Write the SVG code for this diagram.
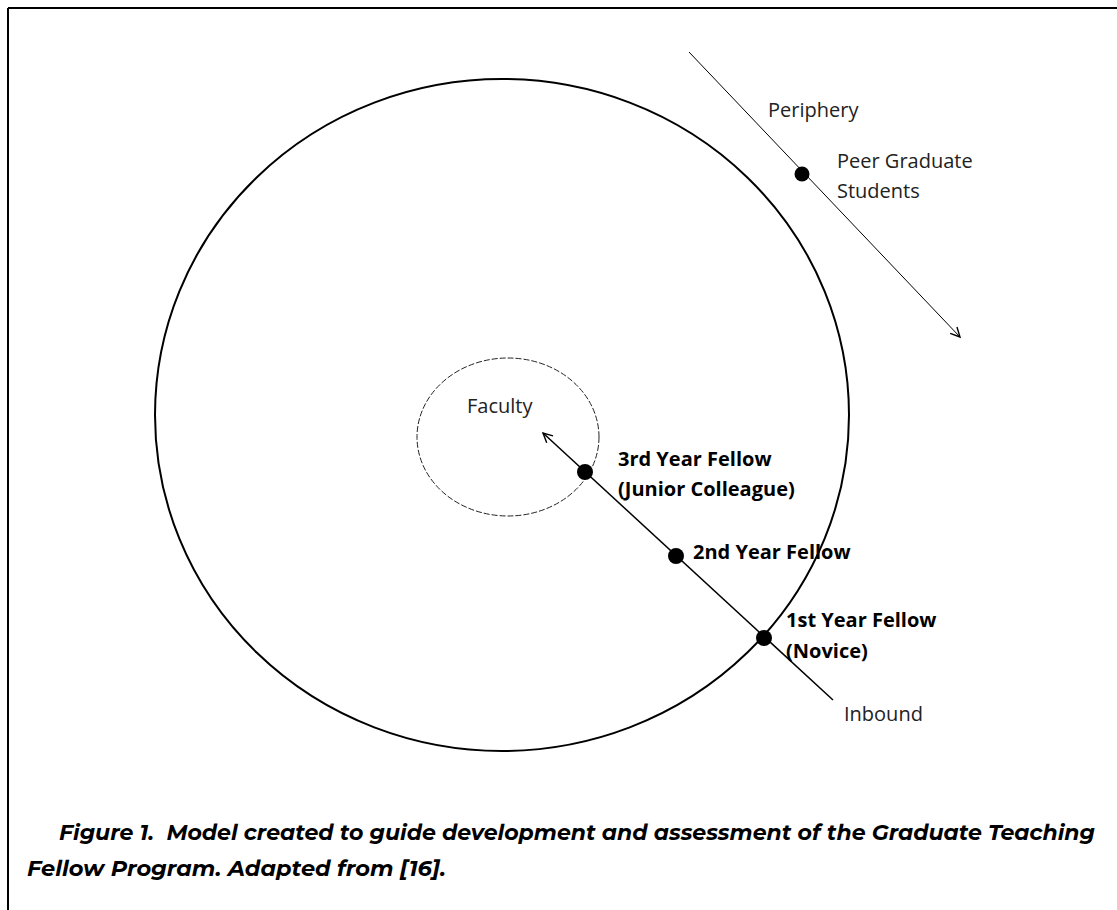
<svg xmlns="http://www.w3.org/2000/svg" width="1117" height="910" viewBox="0 0 1117 910">
  <style>
    .lbl { font-family: "Open Sans", "Noto Sans", "Liberation Sans", sans-serif; font-size: 20px; fill: #222; }
    .bold { font-weight: bold; fill: #000; }
    .cap { font-family: "Montserrat", "Liberation Sans", "DejaVu Sans", sans-serif; font-size: 21px; font-weight: bold; font-style: italic; fill: #000; }
    .dot { fill: #000; }
    .conn { stroke: #000; fill: none; }
  </style>
  <defs>
    <marker id="arrow" markerUnits="userSpaceOnUse" markerWidth="14" markerHeight="14" refX="10" refY="5" orient="auto" viewBox="0 0 12 10">
      <path d="M2,1 L10,5 L2,9" fill="none" stroke="#000" stroke-width="1.2"/>
    </marker>
  </defs>
  <rect width="1117" height="910" fill="#fff"/>
  <g id="frame">
    <line x1="8" y1="8" x2="1117" y2="8" stroke="#000" stroke-width="2"/>
    <line x1="8" y1="8" x2="8" y2="910" stroke="#000" stroke-width="2"/>
  </g>
  <g id="community">
    <ellipse cx="502" cy="415" rx="347" ry="336" fill="none" stroke="#000" stroke-width="2"/>
  </g>
  <g id="faculty">
    <ellipse cx="508" cy="437" rx="91" ry="79" fill="none" stroke="#222" stroke-width="1" stroke-dasharray="6 2"/>
    <text class="lbl" x="467" y="413">Faculty</text>
  </g>
  <g id="connectors">
    <line class="conn" x1="833" y1="700" x2="543" y2="433" stroke-width="1.5" marker-end="url(#arrow)"/>
    <line class="conn" x1="689" y1="52" x2="960" y2="337" stroke="#333" stroke-width="1" marker-end="url(#arrow)"/>
  </g>
  <g id="periphery">
    <text class="lbl" x="768" y="117">Periphery</text>
  </g>
  <g id="peer">
    <circle class="dot" cx="802" cy="174" r="7.5"/>
    <text class="lbl" x="837" y="168">Peer Graduate</text>
    <text class="lbl" x="837" y="198">Students</text>
  </g>
  <g id="third-year">
    <circle class="dot" cx="585" cy="472" r="8"/>
    <text class="lbl bold" x="618" y="466">3rd Year Fellow</text>
    <text class="lbl bold" x="618" y="496">(Junior Colleague)</text>
  </g>
  <g id="second-year">
    <circle class="dot" cx="676" cy="556" r="8"/>
    <text class="lbl bold" x="693" y="559">2nd Year Fellow</text>
  </g>
  <g id="first-year">
    <circle class="dot" cx="764" cy="638" r="8"/>
    <text class="lbl bold" x="786" y="627">1st Year Fellow</text>
    <text class="lbl bold" x="786" y="658">(Novice)</text>
  </g>
  <g id="inbound">
    <text class="lbl" x="844" y="721">Inbound</text>
  </g>
  <g id="caption">
    <text class="cap" x="59" y="840" xml:space="preserve" textLength="1036" lengthAdjust="spacingAndGlyphs">Figure 1.  Model created to guide development and assessment of the Graduate Teaching</text>
    <text class="cap" x="27" y="876" textLength="419" lengthAdjust="spacingAndGlyphs">Fellow Program. Adapted from [16].</text>
  </g>
</svg>
